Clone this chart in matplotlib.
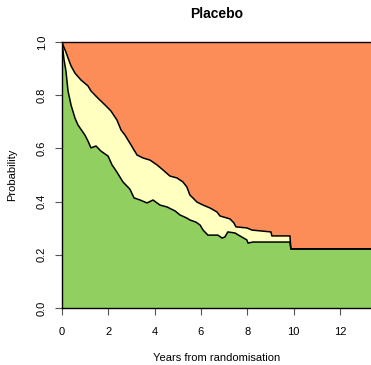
import matplotlib
matplotlib.use("Agg")
import matplotlib.pyplot as plt

plt.rcParams['font.family'] = ['Liberation Sans', 'DejaVu Sans']

# upper curve (boundary yellow / orange), traced vertices
up_t = [0, 0.04, 0.17, 0.26, 0.39, 0.56, 0.82, 1.12, 1.25, 1.55, 1.86, 2.11, 2.37,
        2.55, 2.72, 2.93, 3.24, 3.50, 3.80, 4.10, 4.36, 4.66, 4.96, 5.22, 5.39,
        5.52, 5.83, 6.09, 6.39, 6.69, 6.82, 7.25, 7.42, 7.51, 7.98, 8.20, 9.02,
        9.06, 9.84, 9.88, 13.34]
up_p = [1.0, 0.989, 0.962, 0.940, 0.910, 0.883, 0.857, 0.835, 0.816, 0.789, 0.763,
        0.741, 0.707, 0.669, 0.650, 0.620, 0.575, 0.564, 0.556, 0.538, 0.519,
        0.496, 0.489, 0.474, 0.455, 0.425, 0.398, 0.387, 0.376, 0.361, 0.346,
        0.335, 0.320, 0.305, 0.301, 0.293, 0.286, 0.271, 0.271, 0.222, 0.222]

# lower curve (boundary green / yellow)
lo_t = [0, 0.04, 0.09, 0.17, 0.26, 0.39, 0.56, 0.69, 0.99, 1.12, 1.25, 1.47, 1.68,
        1.99, 2.16, 2.37, 2.63, 2.93, 3.11, 3.37, 3.67, 3.93, 4.23, 4.53, 4.88,
        5.09, 5.39, 5.52, 5.78, 5.96, 6.09, 6.30, 6.73, 6.91, 7.03, 7.16, 7.47,
        7.68, 7.98, 8.03, 8.24, 9.84, 9.88, 13.34]
lo_p = [1.0, 0.970, 0.932, 0.891, 0.816, 0.763, 0.714, 0.688, 0.650, 0.628, 0.602,
        0.609, 0.590, 0.571, 0.538, 0.511, 0.474, 0.447, 0.414, 0.406, 0.395,
        0.406, 0.387, 0.380, 0.365, 0.350, 0.338, 0.331, 0.323, 0.312, 0.293,
        0.274, 0.274, 0.263, 0.267, 0.286, 0.282, 0.271, 0.256, 0.244, 0.248,
        0.248, 0.222, 0.222]

t_max = 13.34
x_ticks = [0, 2, 4, 6, 8, 10, 12]
y_ticks = [0.0, 0.2, 0.4, 0.6, 0.8, 1.0]

fig = plt.figure(figsize=(3.71, 3.65), dpi=100)
ax = fig.add_axes([62/371, 57/365, 1 - 62/371, 266/365])

# stacked bands as polygons
ax.fill(lo_t + [t_max, 0], lo_p + [0, 0], color='#91CF60', lw=0)
ax.fill(up_t + lo_t[::-1], up_p + lo_p[::-1], color='#FFFFBF', lw=0)
ax.fill(up_t + [t_max, 0], up_p + [1, 1], color='#FC8D59', lw=0)
ax.plot(lo_t, lo_p, color='black', lw=1.1)
ax.plot(up_t, up_p, color='black', lw=1.1)

ax.set_xlim(0, t_max)
ax.set_ylim(0, 1)
ax.set_xticks(x_ticks)
ax.set_yticks(y_ticks)
ax.set_yticklabels([f"{v:.1f}" for v in y_ticks], rotation=90, va='center')
ax.tick_params(direction='out', length=5, width=0.8, color='#555555',
               labelsize=8)
ax.tick_params(axis='x', pad=9)
ax.tick_params(axis='y', pad=6)
ax.spines['right'].set_visible(False)
for s in ['left', 'bottom', 'top']:
    ax.spines[s].set_color('black')
    ax.spines[s].set_linewidth(1)

ax.set_title("Placebo", fontsize=10, fontweight='bold', pad=17)
ax.set_xlabel("Years from randomisation", fontsize=8, labelpad=11)
ax.set_ylabel("Probability", fontsize=8, labelpad=14)

fig.savefig("out.png", dpi=100)
